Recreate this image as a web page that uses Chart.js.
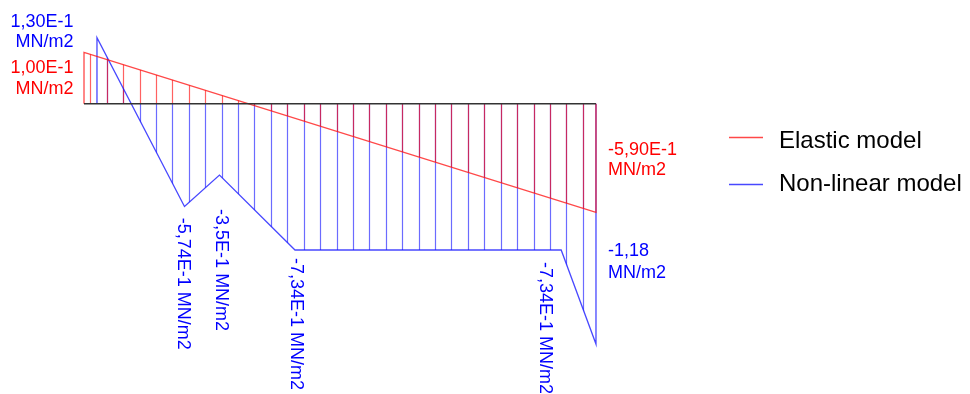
<!DOCTYPE html>
<html>
<head>
<meta charset="utf-8">
<script src="https://cdn.jsdelivr.net/npm/chart.js@4.4.1/dist/chart.umd.min.js"></script>
<style>
  html, body { margin: 0; padding: 0; background: #fff; }
  #wrap { width: 970px; height: 394px; }
</style>
</head>
<body>
<div id="wrap"><canvas id="chart" width="970" height="394"></canvas></div>
<script>
// x: position along the section (1 unit = hatch spacing), y: diagram ordinate
const elasticX = [0, 0, 31.18, 31.18];
const elasticY = [0, 0.257, -0.543, 0];
const nonlinearX = [0.79, 0.79, 6.12, 8.25, 12.85, 29.06, 31.18, 31.18];
const nonlinearY = [0, 0.33, -0.514, -0.357, -0.7315, -0.7315, -1.2015, 0];
const baseX = [0, 31.18];
const baseY = [0, 0];

const seriesNames = ["Elastic model", "Non-linear model"];
const elasticTexts = [["1,00E-1", "MN/m2"], ["-5,90E-1", "MN/m2"]];
const nonlinearTexts = [["1,30E-1", "MN/m2"], ["-5,74E-1 MN/m2"], ["-3,5E-1 MN/m2"],
                        ["-7,34E-1 MN/m2"], ["-7,34E-1 MN/m2"], ["-1,18", "MN/m2"]];

const HATCH_FIRST = 0.38;
const HATCH_STEP = 1;
const FONT = '"Liberation Sans", Arial, sans-serif';

const pts = (xs, ys) => xs.map((v, i) => ({ x: v, y: ys[i] }));

// --- hachures : lignes verticales coupées par le contour ---
const hatchPlugin = {
  id: "hatch",
  beforeDatasetsDraw(chart) {
    const { ctx, scales: { x, y }, chartArea } = chart;
    [1, 0].forEach(i => {
      const ds = chart.data.datasets[i];
      const data = ds.data;
      ctx.save();
      ctx.beginPath();
      data.forEach((p, k) => {
        const px = x.getPixelForValue(p.x), py = y.getPixelForValue(p.y);
        k ? ctx.lineTo(px, py) : ctx.moveTo(px, py);
      });
      ctx.closePath();
      ctx.clip();
      ctx.strokeStyle = ds.hatchColor;
      ctx.lineWidth = 1.2;
      ctx.beginPath();
      const end = data[data.length - 1].x;
      for (let s = HATCH_FIRST; s < end; s += HATCH_STEP) {
        const px = Math.round(x.getPixelForValue(s)) + 0.5;
        ctx.moveTo(px, chartArea.top);
        ctx.lineTo(px, chartArea.bottom);
      }
      ctx.stroke();
      ctx.restore();
    });
  }
};

// --- étiquettes de valeurs + légende ---
function drawLines(ctx, lines, x0, y0, lh) {
  lines.forEach((t, k) => ctx.fillText(t, x0, y0 + k * lh));
}

const labelPlugin = {
  id: "labels",
  afterDatasetsDraw(chart) {
    const { ctx, scales: { x, y } } = chart;
    const P = (xs, ys, i) => ({ px: x.getPixelForValue(xs[i]), py: y.getPixelForValue(ys[i]) });
    ctx.save();
    ctx.font = `18px ${FONT}`;

    // élastique
    ctx.fillStyle = "#ff0000";
    ctx.textBaseline = "alphabetic";
    let a = P(elasticX, elasticY, 1);
    ctx.textAlign = "right";
    drawLines(ctx, elasticTexts[0], a.px - 10.5, a.py + 21, 21);
    a = P(elasticX, elasticY, 2);
    ctx.textAlign = "left";
    drawLines(ctx, elasticTexts[1], a.px + 12, a.py - 57.3, 20);

    // non linéaire
    ctx.fillStyle = "#0000ff";
    a = P(nonlinearX, nonlinearY, 1);
    ctx.textAlign = "right";
    drawLines(ctx, nonlinearTexts[0], a.px - 23.5, a.py - 10.6, 20);
    a = P(nonlinearX, nonlinearY, 6);
    ctx.textAlign = "left";
    drawLines(ctx, nonlinearTexts[5], a.px + 12, a.py - 88, 21.5);

    // textes verticaux
    const vert = [[2, 1, -1.2, 11.3], [3, 2, 1, 34], [4, 3, 0.5, 8], [5, 4, -16.5, 12]];
    ctx.textAlign = "left";
    ctx.textBaseline = "middle";
    vert.forEach(([i, t, dx, dy]) => {
      const p = P(nonlinearX, nonlinearY, i);
      ctx.save();
      ctx.translate(p.px + dx, p.py + dy);
      ctx.rotate(Math.PI / 2);
      ctx.fillText(nonlinearTexts[t][0], 0, 0);
      ctx.restore();
    });
    ctx.restore();
  },
  afterDraw(chart) {
    const { ctx } = chart;
    const rows = [{ y: 137.5, ty: 147.5 }, { y: 184.5, ty: 190.5 }];
    ctx.save();
    ctx.font = `24px ${FONT}`;
    ctx.fillStyle = "#000";
    ctx.textAlign = "left";
    ctx.textBaseline = "alphabetic";
    rows.forEach((r, i) => {
      ctx.strokeStyle = chart.data.datasets[i].borderColor;
      ctx.lineWidth = 1.3;
      ctx.beginPath();
      ctx.moveTo(729, r.y);
      ctx.lineTo(763, r.y);
      ctx.stroke();
      ctx.fillText(seriesNames[i], 779, r.ty);
    });
    ctx.restore();
  }
};

new Chart(document.getElementById("chart"), {
  type: "scatter",
  data: {
    datasets: [
      {
        label: seriesNames[0],
        data: pts(elasticX, elasticY),
        showLine: true,
        borderColor: "rgba(255,20,20,0.78)",
        hatchColor: "rgba(255,0,0,0.62)",
        borderWidth: 1.3,
        pointRadius: 0,
        tension: 0,
        order: 1,
      },
      {
        label: seriesNames[1],
        data: pts(nonlinearX, nonlinearY),
        showLine: true,
        borderColor: "rgba(20,20,255,0.78)",
        hatchColor: "rgba(0,0,255,0.58)",
        borderWidth: 1.3,
        pointRadius: 0,
        tension: 0,
        order: 2,
      },
      {
        label: "base",
        data: pts(baseX, baseY),
        showLine: true,
        borderColor: "#333",
        borderWidth: 1.6,
        pointRadius: 0,
        order: 0,
      },
    ],
  },
  options: {
    responsive: false,
    animation: false,
    layout: { padding: 0 },
    plugins: { legend: { display: false }, tooltip: { enabled: false } },
    scales: {
      x: { type: "linear", min: -5.116, max: 53.958, display: false },
      y: { type: "linear", min: -1.4515, max: 0.5185, display: false },
    },
  },
  plugins: [hatchPlugin, labelPlugin],
});
</script>
</body>
</html>
